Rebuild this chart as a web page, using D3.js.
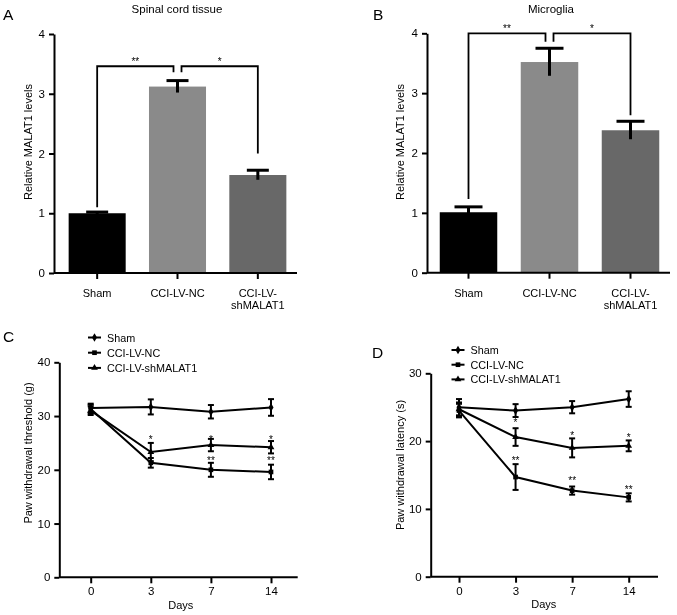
<!DOCTYPE html>
<html><head><meta charset="utf-8">
<script src="https://cdn.jsdelivr.net/npm/d3@7"></script>
<style>
body{margin:0;background:#fff;}
svg{display:block;font-family:"Liberation Sans",Arial,sans-serif;-webkit-font-smoothing:antialiased;will-change:transform;}
</style></head>
<body><svg id="c" width="677" height="615"></svg>
<script>
// ---- data ----
const barGroups = ["Sham", "CCI-LV-NC", "CCI-LV-shMALAT1"];
const barColors = ["#000000", "#8a8a8a", "#686868"];
const spinalMeans = [1.00, 3.12, 1.64];
const spinalErr = [0.02, 0.10, 0.08];
const microMeans = [1.01, 3.52, 2.38];
const microErr = [0.09, 0.23, 0.15];
const barTicks = [0, 1, 2, 3, 4];
// brackets: [fromIdx, toIdx, label, top, leftLegBottom, rightLegBottom]
const spinalBrackets = [[0, 1, "**", 3.46, 1.10, 3.36], [1, 2, "*", 3.46, 3.36, 2.00]];
const microBrackets = [[0, 1, "**", 4.00, 1.23, 3.86], [1, 2, "*", 4.00, 3.86, 2.63]];

const days = ["0", "3", "7", "14"];
const seriesNames = ["Sham", "CCI-LV-NC", "CCI-LV-shMALAT1"];
const pwtSham = [31.5, 31.7, 30.8, 31.6];
const pwtShamErr = [0.8, 1.4, 1.25, 1.55];
const pwtNC = [31.3, 21.3, 20.0, 19.6];
const pwtNCErr = [0.8, 0.9, 1.3, 1.35];
const pwtSh = [31.0, 23.3, 24.6, 24.2];
const pwtShErr = [0.8, 1.7, 1.15, 1.15];
const pwtTicks = [0, 10, 20, 30, 40];
const pwtStars = [["3", 26.0, "*"], ["7", 26.0, "*"], ["14", 26.0, "*"], ["7", 22.1, "**"], ["14", 22.1, "**"]];

const pwlSham = [25.0, 24.5, 25.0, 26.2];
const pwlShamErr = [1.2, 0.95, 0.9, 1.15];
const pwlNC = [24.5, 14.7, 12.7, 11.7];
const pwlNCErr = [1.0, 1.9, 0.6, 0.6];
const pwlSh = [24.7, 20.6, 19.0, 19.3];
const pwlShErr = [1.0, 1.3, 1.4, 0.8];
const pwlTicks = [0, 10, 20, 30];
const pwlStars = [["3", 23.0, "*"], ["7", 21.1, "*"], ["14", 20.8, "*"], ["3", 17.5, "**"], ["7", 14.5, "**"], ["14", 13.2, "**"]];

const svg = d3.select("#c");
const FS = 11;

function styleAxis(g) {
  g.selectAll("path.domain").attr("stroke", "#000").attr("stroke-width", 2);
  g.selectAll(".tick line").attr("stroke", "#000").attr("stroke-width", 2);
  g.selectAll(".tick text").attr("font-size", 11.5).attr("fill", "#000").attr("font-family", "Liberation Sans, Arial, sans-serif");
}

function barPanel(o) {
  const y = d3.scaleLinear().domain([0, 4]).range([o.y0, o.y4]);
  const x = d3.scaleBand().domain(barGroups).range(o.xr).paddingInner(0.29).paddingOuter(0.145);
  const g = svg.append("g");
  g.selectAll("rect.bar").data(o.means).join("rect")
    .attr("x", (d, i) => x(barGroups[i])).attr("width", x.bandwidth())
    .attr("y", d => y(d)).attr("height", d => y(0) - y(d))
    .attr("fill", (d, i) => barColors[i]);
  o.means.forEach((m, i) => {
    const cx = x(barGroups[i]) + x.bandwidth() / 2;
    g.append("line").attr("x1", cx).attr("x2", cx).attr("y1", y(m - o.err[i])).attr("y2", y(m + o.err[i]))
      .attr("stroke", "#000").attr("stroke-width", 3);
    g.append("line").attr("x1", cx - o.cap / 2).attr("x2", cx + o.cap / 2).attr("y1", y(m + o.err[i])).attr("y2", y(m + o.err[i]))
      .attr("stroke", "#000").attr("stroke-width", 3);
  });
  const ya = g.append("g").attr("transform", `translate(${o.axX},0)`)
    .call(d3.axisLeft(y).tickValues(barTicks).tickFormat(d3.format("d")).tickSize(5).tickSizeOuter(0).tickPadding(4));
  styleAxis(ya);
  const xa = g.append("g").attr("transform", `translate(0,${o.y0})`)
    .call(d3.axisBottom(x).tickSize(6).tickSizeOuter(0).tickFormat(""));
  xa.select("path.domain").remove();
  styleAxis(xa);
  g.append("line").attr("x1", o.axX).attr("x2", o.xEnd).attr("y1", y(0)).attr("y2", y(0))
    .attr("stroke", "#000").attr("stroke-width", 2);
  barGroups.forEach((name, i) => {
    const cx = x(name) + x.bandwidth() / 2;
    const lines = name === "CCI-LV-shMALAT1" ? ["CCI-LV-", "shMALAT1"] : [name];
    lines.forEach((t, k) => {
      g.append("text").attr("x", cx).attr("y", o.y0 + 24 + k * 12).attr("text-anchor", "middle")
        .attr("font-size", FS).text(t);
    });
  });
  o.brackets.forEach(b => {
    const c0 = x(barGroups[b[0]]) + x.bandwidth() / 2;
    const c1 = x(barGroups[b[1]]) + x.bandwidth() / 2;
    const xl = b[0] === 1 ? c0 + 4 : c0;
    const xr = b[1] === 1 ? c1 - 4 : c1;
    g.append("path").attr("d", `M${xl},${y(b[4])}V${y(b[3])}H${xr}V${y(b[5])}`)
      .attr("fill", "none").attr("stroke", "#000").attr("stroke-width", 1.8);
    g.append("text").attr("x", (xl + xr) / 2).attr("y", y(b[3]) - 1).attr("text-anchor", "middle")
      .attr("font-size", 10).attr("fill", "#000").text(b[2]);
  });
  g.append("text").attr("x", o.titleX).attr("y", 13).attr("text-anchor", "middle").attr("font-size", 11.5).text(o.title);
  g.append("text").attr("transform", `translate(${o.ylabX},142) rotate(-90)`)
    .attr("text-anchor", "middle").attr("font-size", 11).text("Relative MALAT1 levels");
  g.append("text").attr("x", o.letterX).attr("y", 20).attr("font-size", 15.5).text(o.letter);
}

barPanel({ means: spinalMeans, err: spinalErr, brackets: spinalBrackets, y0: 273, y4: 34, xr: [57, 298], axX: 54, xEnd: 297,
  cap: 22, title: "Spinal cord tissue", titleX: 177, ylabX: 32, letter: "A", letterX: 3 });
barPanel({ means: microMeans, err: microErr, brackets: microBrackets, y0: 272.7, y4: 33.3, xr: [428, 671], axX: 427, xEnd: 670,
  cap: 28, title: "Microglia", titleX: 551, ylabX: 404, letter: "B", letterX: 373 });

function markerPath(type) {
  if (type === 0) return d3.symbol(d3.symbolDiamond, 22)();
  if (type === 1) return d3.symbol(d3.symbolSquare, 22)();
  return d3.symbol(d3.symbolTriangle, 20)();
}

function linePanel(o) {
  const x = d3.scalePoint().domain(days).range(o.xr);
  const y = d3.scaleLinear().domain([0, o.ymax]).range([o.y0, o.ytop]);
  const g = svg.append("g");
  const ya = g.append("g").attr("transform", `translate(${o.axX},0)`)
    .call(d3.axisLeft(y).tickValues(o.ticks).tickFormat(d3.format("d")).tickSize(5).tickSizeOuter(0).tickPadding(4));
  styleAxis(ya);
  const xa = g.append("g").attr("transform", `translate(0,${o.y0})`)
    .call(d3.axisBottom(x).tickSize(6).tickSizeOuter(0).tickPadding(4));
  xa.select("path.domain").remove();
  styleAxis(xa);
  g.append("line").attr("x1", o.axX).attr("x2", o.xEnd).attr("y1", o.y0).attr("y2", o.y0)
    .attr("stroke", "#000").attr("stroke-width", 2);
  const line = d3.line().x((d, i) => x(days[i])).y(d => y(d));
  o.series.forEach((s, si) => {
    g.append("path").attr("d", line(s.v)).attr("fill", "none").attr("stroke", "#000").attr("stroke-width", 2);
    s.v.forEach((v, i) => {
      const cx = x(days[i]);
      g.append("line").attr("x1", cx).attr("x2", cx).attr("y1", y(v - s.e[i])).attr("y2", y(v + s.e[i]))
        .attr("stroke", "#000").attr("stroke-width", 2);
      [v - s.e[i], v + s.e[i]].forEach(w => g.append("line").attr("x1", cx - 3).attr("x2", cx + 3)
        .attr("y1", y(w)).attr("y2", y(w)).attr("stroke", "#000").attr("stroke-width", 2));
      g.append("path").attr("d", markerPath(si)).attr("transform", `translate(${cx},${y(v)})`).attr("fill", "#000");
    });
  });
  o.stars.forEach(st => {
    g.append("text").attr("x", x(st[0])).attr("y", y(st[1]) + 5.5).attr("text-anchor", "middle")
      .attr("font-size", 10).attr("fill", "#000").text(st[2]);
  });
  seriesNames.forEach((n, i) => {
    const ly = o.legY + i * o.legDy;
    g.append("line").attr("x1", o.legX).attr("x2", o.legX + 13).attr("y1", ly).attr("y2", ly)
      .attr("stroke", "#000").attr("stroke-width", 2);
    g.append("path").attr("d", markerPath(i)).attr("transform", `translate(${o.legX + 6.5},${ly})`).attr("fill", "#000");
    g.append("text").attr("x", o.legX + 19).attr("y", ly + 4).attr("font-size", 10.8).text(n);
  });
  g.append("text").attr("x", (o.xr[0] + o.xr[1]) / 2).attr("y", o.daysY).attr("text-anchor", "middle").attr("font-size", FS).text("Days");
  g.append("text").attr("transform", `translate(${o.ylabX},${o.ylabY}) rotate(-90)`)
    .attr("text-anchor", "middle").attr("font-size", 11).text(o.ylab);
  g.append("text").attr("x", o.letterX).attr("y", o.letterY).attr("font-size", 15.5).text(o.letter);
}

linePanel({ xr: [90.7, 271], ymax: 40, y0: 577.3, ytop: 362.3, axX: 59.3, xEnd: 297.7, ticks: pwtTicks,
  series: [{ v: pwtSham, e: pwtShamErr }, { v: pwtNC, e: pwtNCErr }, { v: pwtSh, e: pwtShErr }],
  stars: pwtStars, legX: 88, legY: 337.5, legDy: 15.2, daysY: 609, ylabX: 32, ylabY: 453,
  ylab: "Paw withdrawal threshold (g)", letter: "C", letterX: 3, letterY: 342 });
linePanel({ xr: [459, 628.7], ymax: 30, y0: 576.7, ytop: 373.3, axX: 430.7, xEnd: 658, ticks: pwlTicks,
  series: [{ v: pwlSham, e: pwlShamErr }, { v: pwlNC, e: pwlNCErr }, { v: pwlSh, e: pwlShErr }],
  stars: pwlStars, legX: 451.5, legY: 350, legDy: 14.7, daysY: 607.5, ylabX: 404, ylabY: 465,
  ylab: "Paw withdrawal latency (s)", letter: "D", letterX: 372, letterY: 358 });
</script></body></html>
